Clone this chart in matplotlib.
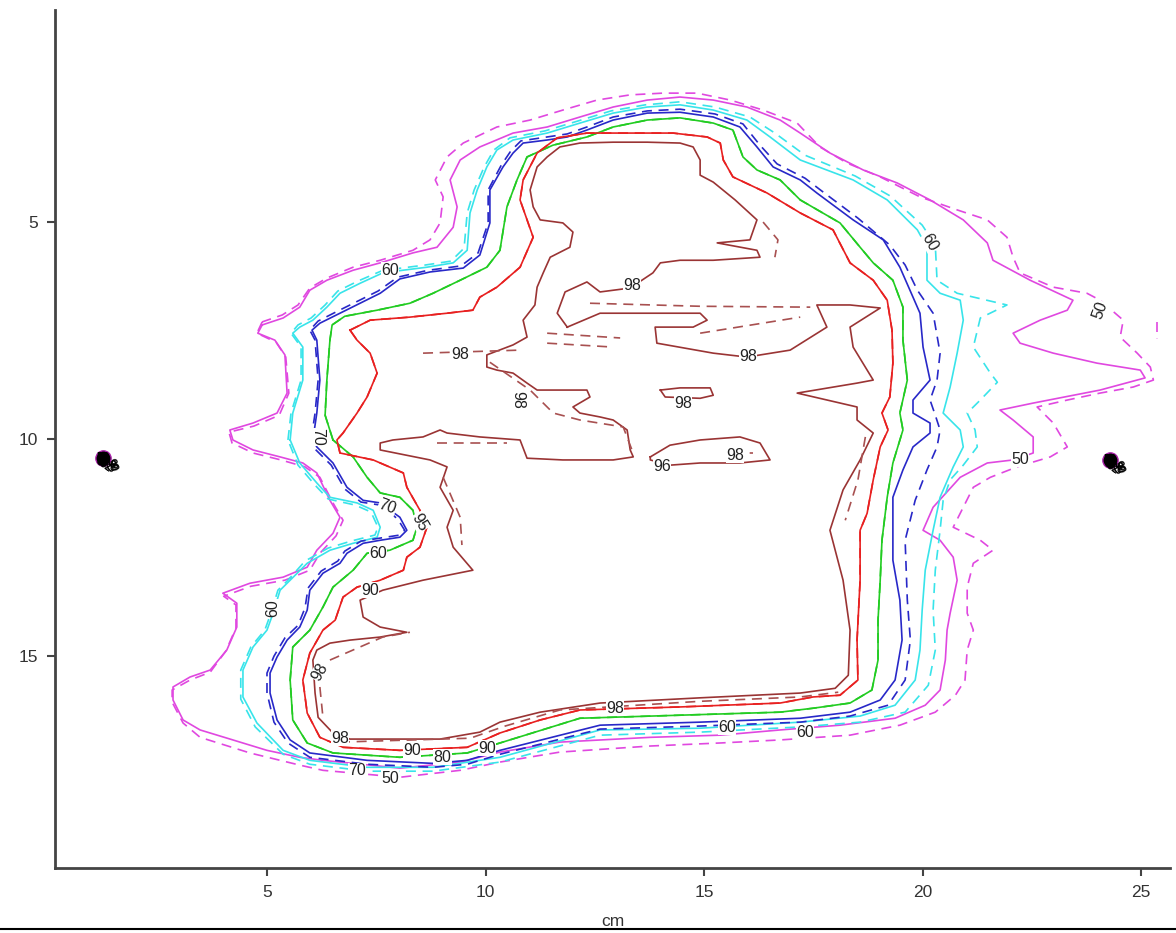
import matplotlib
matplotlib.use("Agg")
import matplotlib.pyplot as plt

# ---- isodose outlines (cm); solid = plan A, dashed = plan B ----
iso50_solid = [(4.89,7.37),(4.79,7.56),(5.18,7.72),(5.41,8.06),(5.46,8.94),(5.23,9.40),(4.68,9.63),(4.15,9.79),
    (4.22,10.02),(4.68,10.25),(5.30,10.41),(5.82,10.55),(6.14,10.78),(6.44,11.41),(6.67,11.80),(6.51,12.17),
    (6.14,12.56),(5.92,12.95),(5.37,13.18),(4.61,13.32),(3.99,13.55),(4.31,13.78),(4.31,14.33),(4.08,14.86),
    (3.70,15.32),(3.24,15.48),(2.85,15.71),(2.85,16.01),(3.08,16.47),(3.47,16.70),(4.22,16.93),(5.00,17.17),
    (5.75,17.33),(6.28,17.40),(8.04,17.58),(9.42,17.44),(10.33,17.21),(11.70,16.98),(13.77,16.87),(15.37,16.82),
    (16.74,16.70),(18.11,16.59),(19.37,16.43),(20.06,16.13),(20.40,15.78),(20.52,15.09),(20.56,14.40),(20.63,14.01),
    (20.79,13.25),(20.70,12.72),(20.40,12.33),(20.01,12.10),(20.24,11.57),(20.86,10.88),(21.48,10.55),(22.07,10.48),
    (22.53,10.32),(22.53,9.95),(22.07,9.56),(21.77,9.33),(22.53,9.17),(24.06,8.87),(25.09,8.59),(24.98,8.41),
    (23.99,8.25),(22.99,8.02),(22.23,7.79),(22.07,7.56),(22.69,7.26),(23.31,7.03),(23.44,6.80),(22.46,6.34),
    (21.61,5.88),(21.48,5.48),(20.93,4.95),(20.17,4.49),(19.42,4.10),(18.64,3.80),(17.88,3.41),(17.20,2.95),
    (16.74,2.65),(15.98,2.35),(15.21,2.19),(14.45,2.12),(13.70,2.19),(12.92,2.35),(12.16,2.58),(11.41,2.81),
    (10.63,2.95),(9.87,3.27),(9.42,3.57),(9.19,4.03),(9.35,4.65),(9.26,5.12),(8.89,5.58),(8.34,5.71),
    (7.59,5.94),(6.97,6.11),(6.37,6.34),(5.98,6.57),(5.75,6.96),(5.37,7.21),(4.89,7.37)]
iso50_dashed = [(4.89,7.30),(4.77,7.56),(5.21,7.77),(5.43,8.11),(5.50,8.94),(5.28,9.45),(4.70,9.70),(4.13,9.84),
    (4.20,10.09),(4.68,10.32),(5.32,10.48),(5.87,10.64),(6.21,10.88),(6.51,11.47),(6.74,11.87),(6.58,12.23),
    (6.21,12.63),(5.98,13.02),(5.41,13.25),(4.63,13.39),(4.01,13.62),(4.29,13.82),(4.29,14.35),(4.06,14.88),
    (3.70,15.37),(3.24,15.55),(2.83,15.78),(2.83,16.06),(3.08,16.54),(3.47,16.87),(4.61,17.23),(5.75,17.51),
    (6.28,17.63),(8.04,17.79),(9.42,17.63),(10.33,17.44),(11.70,17.21),(13.77,17.07),(15.37,17.00),(16.74,16.93),
    (18.34,16.82),(19.48,16.59),(20.29,16.29),(20.75,15.90),(20.97,15.55),(21.02,14.86),(21.16,14.40),(21.02,14.01),
    (21.02,13.41),(21.16,12.86),(21.61,12.56),(21.32,12.33),(20.70,12.03),(20.86,11.71),(21.16,11.11),(21.55,10.88),
    (22.16,10.64),(22.92,10.41),(23.31,10.18),(22.99,9.63),(22.62,9.26),(23.31,9.10),(24.06,8.94),(24.82,8.80),
    (25.28,8.64),(25.21,8.34),(24.91,8.02),(24.52,7.65),(24.59,7.26),(24.06,6.80),(23.76,6.64),(22.99,6.50),
    (22.23,6.17),(22.07,5.81),(21.93,5.35),(21.48,4.95),(20.79,4.72),(19.94,4.42),(19.03,3.96),(18.27,3.64),
    (17.65,3.27),(17.13,2.72),(16.35,2.42),(15.60,2.19),(14.84,2.03),(14.06,2.03),(13.31,2.07),(12.55,2.19),
    (11.77,2.42),(11.02,2.65),(10.26,2.81),(9.49,3.18),(9.12,3.50),(8.85,4.03),(9.03,4.42),(8.96,5.02),
    (8.73,5.41),(8.34,5.65),(7.59,5.88),(6.97,6.04),(6.37,6.29),(5.98,6.52),(5.71,6.91),(5.35,7.14),(4.89,7.30)]
iso50_dashed_tip = [(25.37,7.30),(25.37,7.70)]

iso60_solid = [(5.53,10.02),(5.59,9.40),(5.82,8.64),(5.82,7.88),(5.59,7.56),(5.75,7.42),(6.05,7.26),(6.37,6.96),
    (6.67,6.64),(7.13,6.41),(7.65,6.17),(8.11,6.11),(8.66,6.04),(9.26,5.94),(9.58,5.65),(9.645,4.79),(9.81,4.26),
    (10.03,3.73),(10.26,3.34),(10.63,3.11),(11.41,2.95),(12.16,2.72),(12.92,2.49),(13.70,2.35),(14.45,2.30),
    (15.21,2.42),(15.98,2.65),(16.51,3.04),(17.20,3.57),(18.41,4.03),(19.19,4.49),(19.88,5.18),(20.10,5.58),
    (20.10,6.34),(20.40,6.64),(20.86,6.80),(20.93,7.26),(20.79,8.02),(20.63,8.80),(20.47,9.40),(20.86,9.79),
    (20.93,10.18),(20.70,10.64),(20.40,11.34),(20.24,12.10),(20.06,13.02),(19.99,13.94),(19.94,14.86),(19.83,15.55),
    (19.37,16.13),(18.57,16.38),(17.20,16.52),(14.91,16.66),(12.62,16.70),(10.33,17.33),(8.80,17.56),(7.29,17.56),
    (5.98,17.40),(5.37,17.17),(4.77,16.54),(4.45,15.94),(4.45,15.32),(4.68,14.79),(5.00,14.40),(5.14,14.01),
    (5.30,13.48),(5.53,13.25),(5.92,12.86),(6.44,12.56),(6.97,12.40),(7.52,12.26),(7.59,12.03),(7.43,11.64),
    (7.06,11.47),(6.44,11.34),(6.14,11.01),(5.75,10.55),(5.53,10.02)]
iso60_dashed = [(5.48,10.02),(5.55,9.40),(5.78,8.64),(5.78,7.88),(5.55,7.56),(5.71,7.37),(6.01,7.21),(6.33,6.91),
    (6.62,6.59),(7.08,6.36),(7.61,6.13),(8.07,6.06),(8.62,5.99),(9.21,5.90),(9.51,5.60),(9.58,4.79),(9.74,4.26),
    (9.97,3.73),(10.19,3.34),(10.56,3.06),(11.36,2.90),(12.12,2.67),(12.87,2.44),(13.65,2.30),(14.45,2.23),
    (15.25,2.35),(16.05,2.58),(16.62,2.95),(17.31,3.46),(18.46,3.94),(19.26,4.40),(19.99,5.07),(20.29,5.53),
    (20.33,6.34),(20.79,6.64),(21.93,6.91),(21.32,7.21),(21.16,7.88),(21.55,8.48),(21.71,8.69),(21.32,9.10),
    (21.02,9.40),(21.20,9.79),(21.25,10.18),(20.93,10.60),(20.63,10.94),(20.47,11.41),(20.40,12.10),(20.29,13.02),
    (20.24,13.94),(20.29,14.86),(20.13,15.67),(19.60,16.29),(18.57,16.52),(17.20,16.63),(14.91,16.75),(12.62,16.82),
    (10.33,17.44),(8.80,17.65),(7.29,17.65),(5.98,17.49),(5.37,17.26),(4.73,16.63),(4.40,15.99),(4.40,15.32),
    (4.63,14.79),(4.95,14.40),(5.09,14.01),(5.25,13.48),(5.48,13.25),(5.87,12.81),(6.40,12.51),(6.92,12.35),
    (7.47,12.21),(7.54,12.03),(7.38,11.68),(7.02,11.52),(6.40,11.38),(6.10,11.06),(5.71,10.60),(5.48,10.02)]

iso70_solid = [(6.05,10.02),(6.14,9.40),(6.21,8.64),(6.14,7.72),(6.03,7.49),(6.21,7.33),(6.67,7.10),(7.13,6.87),
    (7.59,6.64),(8.04,6.31),(8.73,6.15),(9.49,6.06),(9.87,5.76),(10.10,5.02),(10.10,4.26),(10.40,3.73),(10.63,3.41),
    (10.86,3.18),(11.41,3.11),(11.87,3.04),(12.32,2.88),(12.92,2.65),(13.70,2.49),(14.45,2.47),(15.21,2.58),
    (15.82,2.81),(16.21,3.27),(16.58,3.73),(17.20,4.03),(17.58,4.33),(18.41,4.95),(19.10,5.41),(19.48,6.04),
    (19.78,6.73),(19.94,7.10),(20.01,7.88),(20.17,8.64),(19.78,9.10),(19.78,9.40),(20.17,9.63),(20.17,9.86),
    (19.78,10.18),(19.55,10.71),(19.32,11.34),(19.32,12.79),(19.48,13.71),(19.53,14.63),(19.37,15.55),(19.03,16.01),
    (18.34,16.29),(17.20,16.43),(14.91,16.52),(12.62,16.59),(10.33,17.17),(9.58,17.40),(8.80,17.47),(7.29,17.40),
    (5.98,17.23),(5.53,16.93),(5.23,16.47),(5.07,15.85),(5.07,15.39),(5.23,15.02),(5.46,14.63),(5.75,14.33),
    (5.92,13.94),(5.98,13.48),(6.28,13.09),(6.67,12.86),(6.83,12.63),(7.20,12.40),(7.59,12.33),(8.04,12.26),
    (8.20,12.10),(8.04,11.80),(7.59,11.47),(7.20,11.41),(6.83,11.11),(6.51,10.55),(6.14,10.18),(6.05,10.02)]
iso70_dashed = [(6.01,10.02),(6.10,9.40),(6.17,8.64),(6.10,7.72),(5.98,7.49),(6.17,7.28),(6.62,7.05),(7.08,6.82),
    (7.54,6.59),(7.99,6.27),(8.69,6.11),(9.44,6.01),(9.83,5.71),(10.06,5.02),(10.06,4.26),(10.36,3.69),(10.58,3.36),
    (10.81,3.13),(11.41,3.04),(11.87,2.97),(12.32,2.81),(12.92,2.58),(13.70,2.44),(14.45,2.40),(15.25,2.51),
    (15.89,2.74),(16.28,3.23),(16.67,3.66),(17.31,3.99),(17.70,4.29),(18.52,4.91),(19.25,5.53),(19.60,5.99),
    (19.88,6.57),(20.24,7.10),(20.40,8.02),(20.33,8.64),(20.17,9.10),(20.29,9.45),(20.40,9.79),(20.33,10.18),
    (20.10,10.71),(19.83,11.41),(19.60,12.33),(19.65,13.71),(19.72,14.63),(19.60,15.55),(19.21,16.13),(18.34,16.38),
    (17.20,16.52),(14.91,16.61),(12.62,16.68),(10.33,17.26),(9.58,17.49),(8.80,17.56),(7.29,17.49),(5.98,17.33),
    (5.48,17.00),(5.16,16.52),(5.00,15.85),(5.00,15.39),(5.16,15.00),(5.41,14.58),(5.71,14.29),(5.87,13.89),
    (5.94,13.43),(6.24,13.04),(6.62,12.81),(6.78,12.58),(7.15,12.35),(7.59,12.28),(8.04,12.21),(8.15,12.10),
    (7.99,11.84),(7.59,11.52),(7.15,11.45),(6.78,11.15),(6.47,10.60),(6.10,10.23),(6.01,10.02)]

iso80_solid = [(6.51,10.02),(6.33,9.45),(6.37,8.64),(6.44,7.72),(6.49,7.37),(6.78,7.17),(7.52,7.03),(8.27,6.87),
    (8.80,6.64),(9.42,6.34),(10.03,6.04),(10.33,5.65),(10.49,4.65),(10.72,4.03),(10.95,3.50),(11.54,3.23),
    (12.32,3.04),(12.92,2.81),(13.70,2.65),(14.45,2.60),(15.21,2.72),(15.66,2.88),(15.89,3.50),(16.21,3.80),
    (16.74,4.03),(17.20,4.49),(18.11,5.02),(18.57,5.58),(18.87,5.94),(19.32,6.34),(19.55,6.96),(19.55,7.72),
    (19.65,8.64),(19.48,9.40),(19.55,9.79),(19.32,10.55),(19.19,11.34),(19.07,12.33),(19.03,13.25),(18.98,14.17),
    (18.98,15.09),(18.84,15.78),(18.34,16.08),(17.49,16.20),(16.74,16.29),(14.45,16.36),(12.16,16.43),(10.33,17.00),
    (9.58,17.23),(8.04,17.33),(6.51,17.23),(5.92,17.00),(5.59,16.47),(5.53,15.55),(5.59,14.79),(5.98,14.40),
    (6.28,13.87),(6.51,13.41),(6.97,13.02),(7.29,12.63),(7.81,12.56),(8.34,12.33),(8.43,12.03),(8.34,11.64),
    (8.04,11.34),(7.59,11.24),(7.29,10.88),(6.97,10.41),(6.51,10.02)]

iso90_solid = [(6.90,7.49),(7.36,7.26),(8.27,7.19),(9.12,7.10),(9.71,7.03),(9.87,6.73),(10.26,6.50),(10.79,6.04),
    (11.09,5.35),(10.79,4.49),(10.86,4.03),(11.18,3.41),(11.64,3.06),(12.32,2.95),(13.31,2.95),(14.29,2.95),
    (15.07,3.04),(15.37,3.18),(15.44,3.57),(15.66,3.96),(16.44,4.33),(17.20,4.79),(17.95,5.18),(18.34,5.94),
    (18.87,6.34),(19.19,6.80),(19.30,7.49),(19.32,8.25),(19.25,9.03),(19.07,9.40),(19.21,9.79),(19.03,10.18),
    (18.87,10.94),(18.73,11.71),(18.57,12.10),(18.57,13.25),(18.50,14.63),(18.52,15.55),(18.11,15.90),(17.49,15.94),
    (16.74,16.08),(14.45,16.17),(12.16,16.24),(11.25,16.47),(10.33,16.77),(9.58,17.10),(8.04,17.17),(6.74,17.10),
    (6.21,16.87),(5.92,16.31),(5.82,15.55),(5.98,14.93),(6.28,14.40),(6.56,14.17),(6.74,13.64),(7.06,13.41),
    (7.59,13.25),(8.12,13.02),(8.20,12.72),(8.50,12.49),(8.66,12.03),(8.50,11.64),(8.20,11.11),(8.12,10.78),
    (7.43,10.48),(6.67,10.32),(6.60,10.02),(6.74,9.86),(7.06,9.40),(7.29,9.03),(7.52,8.48),(7.36,8.02),
    (7.06,7.72),(6.90,7.49)]

# 98 % outline, plan A
iso98_solid = [(11.87,7.42),(11.64,7.10),(11.82,6.61),(12.32,6.38),(12.62,6.61),(13.31,6.52),(13.83,6.17),
    (14.00,5.94),(14.45,5.88),(15.21,5.88),(16.28,5.81),(16.21,5.65),(15.30,5.48),(16.05,5.41),(16.21,4.95),
    (15.71,4.49),(15.21,4.08),(14.91,3.92),(14.91,3.57),(14.75,3.27),(14.45,3.18),(13.70,3.16),(12.92,3.16),
    (12.16,3.18),(11.70,3.27),(11.41,3.50),(11.18,3.73),(11.02,4.26),(11.09,4.65),(11.25,4.95),(11.77,5.02),
    (12.00,5.23),(11.93,5.58),(11.48,5.81),(11.32,6.17),(11.18,6.50),(11.13,6.91),(10.86,7.26),(10.95,7.65),
    (10.63,7.83),(10.03,8.06),(10.03,8.34),(10.26,8.41),(10.63,8.48),(10.95,8.71),(11.18,8.87),(11.87,8.87),
    (12.32,8.87),(12.39,9.03),(12.00,9.26),(12.16,9.40),(12.62,9.49),(12.92,9.56),(13.24,9.79),(13.31,10.25),
    (13.38,10.41),(12.92,10.48),(11.77,10.48),(10.95,10.44),(10.79,10.02),(9.87,9.95),(9.12,9.86),(8.96,9.79),
    (8.57,9.95),(7.88,10.02),(7.59,10.09),(7.59,10.25),(8.73,10.48),(9.12,10.64),(8.96,11.11),(9.26,11.64),
    (9.12,12.03),(9.26,12.49),(9.71,13.02),(8.57,13.25),(7.65,13.48),(7.13,13.71),(7.20,14.10),(7.59,14.33),
    (8.20,14.45),(7.59,14.56),(6.90,14.63),(6.44,14.70),(6.14,14.86),(6.05,15.09),(6.10,15.85),(6.17,16.41),
    (6.51,16.77),(6.90,16.91),(8.96,16.91),(9.87,16.75),(10.33,16.52),(11.25,16.29),(12.62,16.08),(14.91,15.96),
    (17.20,15.85),(18.00,15.74),(18.30,15.44),(18.34,14.40),(18.18,13.25),(17.88,12.10),(18.18,11.17),
    (18.57,10.48),(18.87,9.86),(18.50,9.56),(18.50,9.26),(17.13,8.94),(18.50,8.71),(18.87,8.64),(18.41,7.88),
    (18.34,7.42),(19.03,6.98),(18.34,6.91),(17.58,6.91),(17.81,7.42),(16.97,7.95),(15.98,8.11),(15.21,8.02),
    (13.92,7.79),(13.88,7.42),(14.75,7.42),(15.07,7.26),(14.91,7.10),(13.77,7.10),(12.62,7.10),(11.87,7.42)]
iso98_island_a = [(14.00,8.87),(14.45,8.82),(15.14,8.82),(15.21,8.99),(14.91,9.06),(14.11,9.03),(14.00,8.87)]
iso98_island_b = [(13.77,10.41),(14.22,10.14),(14.91,10.02),(15.82,9.95),(16.28,10.09),(16.51,10.48),
    (15.82,10.55),(14.91,10.55),(14.22,10.60),(13.77,10.48),(13.77,10.41)]
# 98 % outline pieces, plan B
iso98_dashed = [
    [(8.57,8.02),(10.79,7.95)],
    [(10.10,8.23),(11.02,8.87),(11.55,9.40),(12.16,9.56),(13.15,9.72),(13.35,10.25)],
    [(8.89,10.09),(10.49,10.09)],
    [(12.39,6.87),(14.91,6.94),(17.43,6.96)],
    [(14.91,7.56),(17.20,7.19)],
    [(11.41,7.56),(13.08,7.67)],
    [(11.41,7.79),(12.92,7.88)],
    [(9.03,10.88),(9.42,11.80),(9.46,12.44)],
    [(6.44,15.09),(7.65,14.56),(8.27,14.45)],
    [(6.21,15.71),(6.28,16.41)],
    [(6.67,16.98),(9.65,16.89),(10.45,16.61),(11.70,16.24),(14.91,16.04),(17.20,15.94),(18.07,15.83)],
    [(18.69,9.95),(18.52,10.94),(18.23,11.87)],
    [(16.35,5.00),(16.69,5.41),(16.62,5.81)],
    [(15.67,10.32),(16.13,10.32)],
]

# contour labels: (text, x, y, rotation)
labels = [("60",7.81,6.11,0),("60",20.17,5.46,-60),("50",24.07,7.03,70),("98",13.35,6.45,0),
    ("98",9.42,8.06,0),("98",16.01,8.09,0),("98",14.52,9.17,0),("98",10.74,9.10,-90),("96",14.04,10.64,0),
    ("98",15.71,10.37,0),("70",6.17,9.95,-90),("50",22.23,10.46,0),("70",7.75,11.57,-20),("95",8.50,11.91,-60),
    ("60",7.54,12.63,0),("90",7.36,13.48,0),("60",5.14,13.89,90),("98",6.21,15.37,60),("98",6.67,16.89,0),
    ("90",8.32,17.17,0),("80",9.01,17.33,0),("90",10.03,17.12,0),("70",7.06,17.63,0),("50",7.81,17.81,0),
    ("98",12.96,16.20,0),("60",15.53,16.64,0),("60",17.31,16.75,0)]
# clusters of overlapping labels at the two lateral markers
marker_points = [(1.25,10.44),(24.29,10.48)]
marker_levels = ["50","60","70","80","90"]

xticks = [5, 10, 15, 20, 25]
yticks = [5, 10, 15]

MAG, CYA, BLU, GRN, RED = "#e048e0", "#38e4ea", "#2828c8", "#22cc22", "#e82020"
BRS, BRD = "#9a3434", "#a85050"

fig = plt.figure(figsize=(11.76, 9.33), dpi=100)
ax = fig.add_axes([55/1176, 65/933, 1115/1176, 858/933])
ax.set_xlim(0.15, 25.66)
ax.set_ylim(19.88, 0.115)

def draw(pts, color, dashed=False, lw=1.2):
    xs, ys = zip(*pts)
    if dashed:
        ax.plot(xs, ys, color=color, lw=lw, dashes=(6, 4), solid_capstyle="butt")
    else:
        ax.plot(xs, ys, color=color, lw=lw)

draw(iso50_solid, MAG); draw(iso50_dashed, MAG, True); draw(iso50_dashed_tip, MAG, True)
draw(iso60_solid, CYA); draw(iso60_dashed, CYA, True)
draw(iso70_solid, BLU); draw(iso70_dashed, BLU, True)
draw(iso80_solid, GRN); draw(iso80_solid, GRN, True)
draw(iso90_solid, RED); draw(iso90_solid, RED, True)
draw(iso98_solid, BRS); draw(iso98_island_a, BRS); draw(iso98_island_b, BRS)
for seg in iso98_dashed:
    draw(seg, BRD, True)

# inline contour labels (white backing breaks the line under the text)
for t, x, y, r in labels:
    ax.text(x, y, t, fontsize=11.5, family="Liberation Sans", color="#222222", rotation=r,
            ha="center", va="center", zorder=5,
            bbox=dict(facecolor="white", edgecolor="none", pad=0.2))
for (mx, my) in marker_points:
    ax.plot([mx], [my], "o", ms=11, color="black", mec="#aa22aa", mew=1, zorder=4)
    for i, lv in enumerate(marker_levels):
        ax.text(mx + 0.05*i, my + 0.04*i, lv, fontsize=8.5, family="Liberation Sans",
                color="black", rotation=72*i, ha="center", va="center", fontweight="bold", zorder=5)

for s in ("top", "right"):
    ax.spines[s].set_visible(False)
for s in ("left", "bottom"):
    ax.spines[s].set_color("#444444")
    ax.spines[s].set_linewidth(2)
ax.set_xticks(xticks)
ax.set_yticks(yticks)
ax.tick_params(direction="out", length=6, width=1.5, color="#444444", labelsize=12.5,
               labelcolor="#333333", pad=6)
for lab in ax.get_xticklabels() + ax.get_yticklabels():
    lab.set_family("Liberation Sans")
ax.set_xlabel("cm", fontsize=12.5, family="Liberation Sans", color="#333333", labelpad=10)
fig.add_artist(plt.Line2D([0, 1], [4/933, 4/933], color="black", lw=1.5, transform=fig.transFigure))

fig.savefig("out.png", dpi=100)
